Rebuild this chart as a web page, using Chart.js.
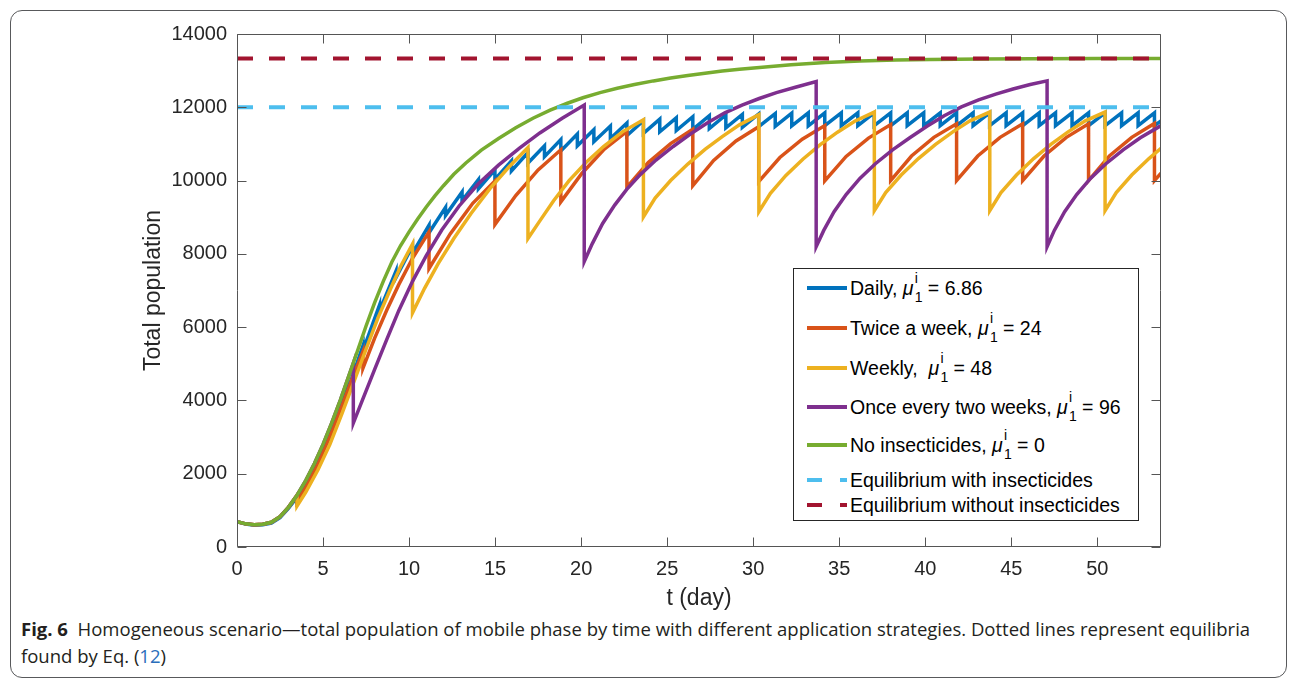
<!DOCTYPE html>
<html><head><meta charset="utf-8"><title>Fig. 6</title>
<script src="https://cdn.jsdelivr.net/npm/chart.js@4.4.1/dist/chart.umd.min.js"></script>
<style>
html,body{margin:0;padding:0;background:#fff;}
body{width:1296px;height:682px;position:relative;overflow:hidden;}
#frame{position:absolute;left:10px;top:10px;width:1277px;height:668px;border:1px solid #58595b;border-radius:12px;box-sizing:border-box;}
#chart{position:absolute;left:0;top:0;}
#legend{position:absolute;left:793px;top:268px;width:346px;height:253px;box-sizing:border-box;border:1px solid #262626;background:#fff;font-family:"Liberation Sans",Arial,Helvetica,sans-serif;font-size:19.5px;color:#000;}
.row{position:absolute;left:0;height:0;width:100%;}
.ls{position:absolute;left:13px;top:-2px;width:40px;height:4px;}
.ld{position:absolute;top:-2px;height:4px;}
.lt{position:absolute;left:56px;top:-11px;white-space:nowrap;line-height:22px;}
.mu{position:relative;display:inline-block;font-style:italic;padding-right:9px;}
.sup,.sub{position:absolute;left:12px;font-size:14px;line-height:14px;font-style:normal;}
.sup{top:-6px;}
.sub{top:13px;}
#caption{position:absolute;left:21px;top:616px;transform-origin:0 0;font-family:"Open Sans","Noto Sans",sans-serif;font-size:18px;line-height:27px;color:#231f20;white-space:nowrap;}
.cl{display:block;}
#cl1{display:inline-block;}
</style></head><body>
<div id="frame"></div>
<canvas id="chart" width="1296" height="612"></canvas>
<div id="legend">
  <div class="row" style="top:19px"><span class="ls" style="background:#0072BD"></span><span class="lt">Daily, <span class="mu">μ<span class="sup">i</span><span class="sub">1</span></span> = 6.86</span></div>
  <div class="row" style="top:59px"><span class="ls" style="background:#D95319"></span><span class="lt">Twice a week, <span class="mu">μ<span class="sup">i</span><span class="sub">1</span></span> = 24</span></div>
  <div class="row" style="top:99px"><span class="ls" style="background:#EDB120"></span><span class="lt">Weekly,&nbsp; <span class="mu">μ<span class="sup">i</span><span class="sub">1</span></span> = 48</span></div>
  <div class="row" style="top:138px"><span class="ls" style="background:#7E2F8E"></span><span class="lt">Once every two weeks, <span class="mu">μ<span class="sup">i</span><span class="sub">1</span></span> = 96</span></div>
  <div class="row" style="top:176px"><span class="ls" style="background:#77AC30"></span><span class="lt">No insecticides, <span class="mu">μ<span class="sup">i</span><span class="sub">1</span></span> = 0</span></div>
  <div class="row" style="top:211px"><span class="ld" style="left:13px;width:15px;background:#4DBEEE"></span><span class="ld" style="left:46px;width:7px;background:#4DBEEE"></span><span class="lt">Equilibrium with insecticides</span></div>
  <div class="row" style="top:236px"><span class="ld" style="left:13px;width:15px;background:#A2142F"></span><span class="ld" style="left:46px;width:7px;background:#A2142F"></span><span class="lt">Equilibrium without insecticides</span></div>
</div>
<div id="caption"><div id="cl1"><b>Fig. 6</b>&nbsp;&nbsp;Homogeneous scenario—total population of mobile phase by time with different application strategies. Dotted lines represent equilibria</div><div class="cl">found by Eq. (<span style="color:#2a6ebb">12</span>)</div></div>
<script>
// ---------- data ----------
const xTicks = [0,5,10,15,20,25,30,35,40,45,50];
const xTickLabels = ['0','5','10','15','20','25','30','35','40','45','50'];
const yTicks = [0,2000,4000,6000,8000,10000,12000,14000];
const yTickLabels = ['0','2000','4000','6000','8000','10000','12000','14000'];

// No insecticides
const greenT = [0,0.5,1,1.5,2,2.5,3,3.5,4,4.5,5,5.5,6,6.5,7,7.5,8,8.5,9,9.5,10,10.5,11,11.5,12,12.6,13.3,14.2,15.2,16.2,17.2,18.2,19.2,20.1,21.1,22.1,23.1,24.2,25.2,26.2,27.2,28.2,29.2,30.2,32.2,34.2,36.2,38.3,40.3,43.3,46.3,50,53.7];
const greenV = [690,632,606,622,675,830,1090,1420,1820,2280,2800,3380,4000,4670,5350,6030,6670,7250,7780,8220,8600,8950,9280,9580,9860,10170,10480,10830,11150,11440,11700,11920,12110,12260,12400,12520,12620,12720,12800,12870,12930,12990,13040,13080,13160,13220,13260,13290,13305,13318,13325,13330,13330];

// Once every two weeks
const purpleT = [0,0.5,1,1.5,2,2.5,3,3.5,4,4.5,5,5.5,6,6.5,6.76,
  6.76,7.3,8.0,8.7,9.4,10.2,11.0,11.9,12.9,14.0,15.2,16.4,17.6,18.9,20.18,
  20.18,20.65,21.25,21.95,22.65,23.45,24.35,25.35,26.35,27.35,28.35,29.35,30.35,31.35,32.4,33.66,
  33.66,34.1,34.7,35.4,36.2,37.1,38.1,39.1,40.1,41.1,42.1,43.1,44.1,45.1,46.1,47.08,
  47.08,47.5,48.1,48.8,49.6,50.5,51.5,52.5,53.7];
const purpleV = [690,632,606,622,675,830,1090,1420,1820,2280,2800,3380,4000,4670,5020,
  3380,4020,4850,5660,6450,7250,7950,8650,9300,9900,10420,10880,11300,11700,12060,
  7790,8280,8830,9330,9760,10170,10560,10930,11270,11580,11850,12060,12240,12400,12540,12700,
  8196,8640,9150,9620,10060,10460,10840,11170,11480,11770,12010,12200,12360,12500,12620,12720,
  8196,8640,9150,9620,10060,10460,10840,11170,11500];

// Weekly
const yellowT = [0,0.5,1,1.5,2,2.5,3,3.49,
  3.49,4.0,4.7,5.4,6.1,6.8,7.5,8.2,8.9,9.5,10.2,
  10.2,10.9,11.7,12.6,13.6,14.7,15.8,16.91,
  16.91,17.6,18.4,19.3,20.3,21.3,22.4,23.62,
  23.62,24.3,25.2,26.2,27.2,28.2,29.2,30.33,
  30.33,31.0,31.9,32.9,33.9,34.9,35.9,37.04,
  37.04,37.7,38.6,39.6,40.6,41.6,42.6,43.75,
  43.75,44.4,45.3,46.3,47.3,48.3,49.3,50.45,
  50.45,51.1,52.0,53.0,53.7];
const yellowV = [690,632,606,622,675,830,1090,1413,
  1120,1500,2100,2800,3640,4520,5400,6260,7020,7650,8270,
  6390,7060,7740,8420,9100,9780,10370,10900,
  8420,8900,9450,10000,10500,10930,11330,11660,
  9010,9520,10000,10450,10850,11200,11520,11800,
  9150,9650,10140,10590,10980,11320,11620,11870,
  9180,9670,10150,10600,10990,11330,11630,11870,
  9180,9670,10150,10600,10990,11330,11630,11870,
  9180,9670,10150,10600,10880];

// Twice a week
const orangeT = [0,0.5,1,1.5,2,2.5,3,3.49,
  3.49,4.0,4.7,5.4,6.1,6.7,7.32,
  7.32,8.0,8.7,9.4,10.2,11.16,
  11.16,12.4,13.7,14.99,
  14.99,16.2,17.5,18.82,
  18.82,20.05,21.35,22.66,
  22.66,23.9,25.2,26.49,
  26.49,27.7,29.0,30.32,
  30.32,31.55,32.85,34.16,
  34.16,35.4,36.7,37.99,
  37.99,39.2,40.5,41.82,
  41.82,43.05,44.35,45.66,
  45.66,46.9,48.2,49.49,
  49.49,50.7,52.0,53.32,
  53.32,53.7];
const orangeV = [690,632,606,622,675,830,1090,1413,
  1240,1640,2260,3020,3860,4600,5330,
  4880,5700,6460,7160,7880,8600,
  7600,8550,9380,9990,
  8800,9590,10290,10840,
  9420,10200,10860,11340,
  9820,10490,11010,11400,
  9860,10550,11080,11470,
  9970,10630,11130,11500,
  9990,10660,11160,11530,
  10000,10670,11180,11550,
  10000,10670,11180,11550,
  10000,10670,11180,11550,
  10000,10670,11180,11560,
  10000,10200];

// Daily
const blueStartT = [0,0.5,1,1.5,2,2.5,3];
const blueStartV = [690,628,592,606,655,800,1060];
const blueJumpT = [3.49,4.45,5.41,6.37,7.32,8.28,9.24,10.20,11.16,12.12,13.08,14.03,14.99,15.95,16.91,17.87,18.82,19.78,20.74,21.70,22.66,23.62,24.57,25.53,26.49,27.45,28.41,29.37,30.32,31.28,32.24,33.20,34.16,35.12,36.08,37.03,37.99,38.95,39.91,40.87,41.82,42.78,43.74,44.70,45.66,46.62,47.57,48.53,49.49,50.45,51.41,52.37,53.32];
const bluePre = [1359,2150,3142,4296,5490,6598,7530,8213,8784,9270,9688,10024,10290,10536,10762,10948,11119,11270,11390,11490,11571,11632,11678,11713,11744,11769,11789,11805,11820,11830,11840,11845,11848,11850,11850,11850,11850,11850,11850,11850,11850,11850,11850,11850,11850,11850,11850,11850,11850,11850,11850,11850,11850];
const bluePost = [1327,2100,3068,4194,5360,6442,7350,8017,8576,9050,9452,9776,10030,10264,10478,10652,10811,10950,11060,11150,11229,11288,11332,11367,11396,11421,11441,11455,11470,11480,11490,11495,11498,11500,11500,11500,11500,11500,11500,11500,11500,11500,11500,11500,11500,11500,11500,11500,11500,11500,11500,11500,11500];
const blueEndT = [53.7];
const blueEndV = [11630];

// Equilibria
const eqT = [0,53.7];
const eqWithV = [12000,12000];
const eqWithoutV = [13330,13330];

// ---------- build ----------
function pts(T,V){ return T.map((t,i)=>({x:t,y:V[i]})); }
function bluePts(){
  const p = pts(blueStartT,blueStartV);
  blueJumpT.forEach((t,i)=>{ p.push({x:t,y:bluePre[i]}); p.push({x:t,y:bluePost[i]}); });
  return p.concat(pts(blueEndT,blueEndV));
}
const FONT = "'Liberation Sans', Arial, Helvetica, sans-serif";
const TXT = '#262626';
function ds(label,data,color,order,w,dash){
  return {label,data,borderColor:color,backgroundColor:color,borderWidth:w||3.5,pointRadius:0,tension:0,order,fill:false,borderDash:dash||[],borderCapStyle:'butt',borderJoinStyle:'miter'};
}
const boxPlugin = {
  id:'box',
  afterDatasetsDraw(chart){
    const {ctx, chartArea:a, scales:{x,y}} = chart;
    const L=Math.round(a.left)+0.5, R=Math.round(a.right)-0.5, T=Math.round(a.top)+0.5, B=Math.round(a.bottom)-0.5;
    ctx.save();
    ctx.strokeStyle='#555'; ctx.lineWidth=1;
    ctx.beginPath();
    ctx.rect(L,T,R-L,B-T);
    const tl=9;
    xTicks.forEach(v=>{ const px=Math.round(x.getPixelForValue(v))+0.5; ctx.moveTo(px,B); ctx.lineTo(px,B-tl); ctx.moveTo(px,T); ctx.lineTo(px,T+tl); });
    yTicks.forEach(v=>{ const py=Math.round(y.getPixelForValue(v))+0.5; ctx.moveTo(L,py); ctx.lineTo(L+tl,py); ctx.moveTo(R,py); ctx.lineTo(R-tl,py); });
    ctx.stroke();
    ctx.restore();
  }
};
new Chart(document.getElementById('chart'),{
  type:'line',
  data:{datasets:[
    ds('Daily, μ = 6.86', bluePts(), '#0072BD', 7),
    ds('Twice a week, μ = 24', pts(orangeT,orangeV), '#D95319', 6),
    ds('Weekly, μ = 48', pts(yellowT,yellowV), '#EDB120', 5),
    ds('Once every two weeks, μ = 96', pts(purpleT,purpleV), '#7E2F8E', 4),
    ds('No insecticides, μ = 0', pts(greenT,greenV), '#77AC30', 3),
    ds('Equilibrium with insecticides', pts(eqT,eqWithV), '#4DBEEE', 2, 4, [16,16]),
    ds('Equilibrium without insecticides', pts(eqT,eqWithoutV), '#A2142F', 1, 4, [16,16])
  ]},
  options:{
    responsive:false, animation:false, devicePixelRatio:1,
    layout:{padding:{left:0,right:135,top:34,bottom:0}},
    plugins:{legend:{display:false},tooltip:{enabled:false}},
    scales:{
      x:{type:'linear',min:0,max:53.7,
        afterBuildTicks:s=>{s.ticks=xTicks.map(v=>({value:v}));},
        afterFit:s=>{s.height=65;},
        grid:{display:false,drawTicks:false}, border:{display:false},
        ticks:{autoSkip:false,maxRotation:0,padding:10,color:TXT,font:{family:FONT,size:20},callback:(v)=>{const i=xTicks.indexOf(v);return i>=0?xTickLabels[i]:'';}},
        title:{display:true,text:'t (day)',color:TXT,font:{family:FONT,size:23},padding:{top:0,bottom:0}}
      },
      y:{type:'linear',min:0,max:14000,
        afterBuildTicks:s=>{s.ticks=yTicks.map(v=>({value:v}));},
        afterFit:s=>{s.width=237;},
        grid:{display:false,drawTicks:false}, border:{display:false},
        ticks:{autoSkip:false,padding:10,color:TXT,font:{family:FONT,size:20},callback:(v)=>{const i=yTicks.indexOf(v);return i>=0?yTickLabels[i]:'';}},
        title:{display:true,text:'Total population',color:TXT,font:{family:FONT,size:23},padding:{top:140,bottom:0}}
      }
    }
  },
  plugins:[boxPlugin]
});
function fitCaption(){
  const l1=document.getElementById('cl1');
  const w=l1.offsetWidth;
  if(w>0) document.getElementById('caption').style.transform='scaleX('+(1229/w)+')';
}
fitCaption();
if(document.fonts&&document.fonts.ready) document.fonts.ready.then(fitCaption);
</script>
</body></html>
